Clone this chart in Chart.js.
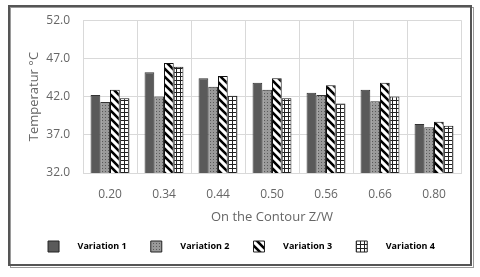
<!DOCTYPE html>
<html>
<head>
<meta charset="utf-8">
<script src="https://cdn.jsdelivr.net/npm/chart.js@4/dist/chart.umd.min.js"></script>
<style>
  html, body { margin: 0; padding: 0; background: #fff; }
  #wrap { width: 480px; height: 277px; }
</style>
</head>
<body>
<div id="wrap"><canvas id="chart" width="480" height="277"></canvas></div>
<script>
var categories = ['0.20', '0.34', '0.44', '0.50', '0.56', '0.66', '0.80'];
var variation1 = [42.2, 45.2, 44.4, 43.8, 42.5, 42.9, 38.4];
var variation2 = [41.3, 42.0, 43.3, 42.9, 42.2, 41.4, 38.0];
var variation3 = [42.9, 46.4, 44.7, 44.4, 43.5, 43.8, 38.7];
var variation4 = [41.8, 45.9, 42.1, 41.8, 41.1, 42.0, 38.2];
var yTicks = [32, 37, 42, 47, 52];

// fill patterns
function makePattern(size, draw) {
    var c = document.createElement('canvas');
    c.width = size; c.height = size;
    var g = c.getContext('2d');
    draw(g, size);
    return c.getContext('2d').createPattern(c, 'repeat');
}

var dotted = makePattern(3, function(g) {
    g.fillStyle = '#9a9a9a';
    g.fillRect(0, 0, 3, 3);
    g.fillStyle = '#5a5a5a';
    g.fillRect(0, 0, 1, 1);
});

var stripes = makePattern(8, function(g) {
    g.fillStyle = '#fff';
    g.fillRect(0, 0, 8, 8);
    g.strokeStyle = '#000';
    g.lineWidth = 2.6;
    g.beginPath();
    g.moveTo(-4, -4); g.lineTo(12, 12);
    g.moveTo(-4, 4); g.lineTo(4, 12);
    g.moveTo(4, -4); g.lineTo(12, 4);
    g.stroke();
});

var grid = makePattern(4, function(g) {
    g.fillStyle = '#fff';
    g.fillRect(0, 0, 4, 4);
    g.fillStyle = '#222';
    g.fillRect(0, 0, 4, 1);
    g.fillRect(0, 0, 1, 4);
});

var frame = {
    id: 'frame',
    beforeDraw: function(chart) {
        var ctx = chart.ctx;
        ctx.save();
        ctx.fillStyle = '#fff';
        ctx.fillRect(0, 0, chart.width, chart.height);
        ctx.strokeStyle = '#9a9a9a';
        ctx.lineWidth = 1;
        ctx.strokeRect(10.5, 7.5, 463, 260);
        ctx.strokeStyle = '#555';
        ctx.lineWidth = 2;
        ctx.strokeRect(9, 6, 462, 259);
        ctx.restore();
    }
};

var tickFont = { family: 'Open Sans', size: 12 };

new Chart(document.getElementById('chart'), {
    type: 'bar',
    data: {
        labels: categories,
        datasets: [
            { label: 'Variation 1', data: variation1, backgroundColor: '#5a5a5a', borderColor: '#333', borderWidth: 1 },
            { label: 'Variation 2', data: variation2, backgroundColor: dotted, borderColor: '#333', borderWidth: 1 },
            { label: 'Variation 3', data: variation3, backgroundColor: stripes, borderColor: '#111', borderWidth: 1 },
            { label: 'Variation 4', data: variation4, backgroundColor: grid, borderColor: '#111', borderWidth: 1 }
        ]
    },
    options: {
        responsive: false,
        animation: false,
        layout: { padding: { left: 22, right: 19, top: 19, bottom: 15 } },
        datasets: { bar: { categoryPercentage: 0.72, barPercentage: 1.0 } },
        plugins: {
            tooltip: { enabled: false },
            legend: {
                position: 'bottom',
                labels: {
                    font: { family: 'Open Sans', size: 9, weight: 'bold' },
                    color: '#333',
                    boxWidth: 11,
                    boxHeight: 11,
                    padding: 10,
                    generateLabels: function(chart) {
                        var n = chart.data.datasets.length;
                        return chart.data.datasets.map(function(ds, i) {
                            return {
                                text: '      ' + ds.label + (i < n - 1 ? '      ' : ''),
                                fillStyle: ds.backgroundColor,
                                strokeStyle: '#222',
                                lineWidth: 1,
                                datasetIndex: i
                            };
                        });
                    }
                }
            }
        },
        scales: {
            x: {
                grid: { color: '#d9d9d9', offset: true, drawTicks: false },
                border: { color: '#d9d9d9' },
                ticks: { font: tickFont, color: '#666', padding: 14 },
                title: { display: true, text: 'On the Contour Z/W', font: { family: 'Open Sans', size: 13 }, color: '#666', padding: { top: 2, bottom: 6 } },
                afterFit: function(s) { s.height = 58; }
            },
            y: {
                min: yTicks[0],
                max: yTicks[yTicks.length - 1],
                afterBuildTicks: function(s) { s.ticks = yTicks.map(function(v) { return { value: v }; }); },
                grid: { color: '#d9d9d9', drawTicks: false },
                border: { color: '#d9d9d9' },
                ticks: { font: tickFont, color: '#666', padding: 13, callback: function(v) { return v.toFixed(1); } },
                title: { display: true, text: 'Temperatur °C', font: { family: 'Open Sans', size: 13 }, color: '#666', padding: { bottom: 2 } },
                afterFit: function(s) { s.width = 61; }
            }
        }
    },
    plugins: [frame]
});
</script>
</body>
</html>
